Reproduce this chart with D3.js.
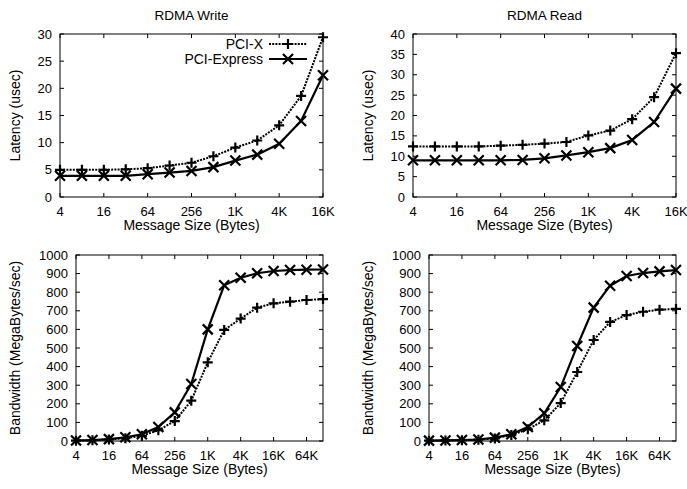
<!DOCTYPE html>
<html>
<head>
<meta charset="utf-8">
<script src="https://cdn.jsdelivr.net/npm/d3@7"></script>
<style>
  body { margin: 0; background: #fff; }
  text { font-family: "Liberation Sans", Arial, sans-serif; fill: #000; }
</style>
</head>
<body>
<div id="chart"></div>
<script>
// message sizes (bytes)
var sizesLat = [4, 8, 16, 32, 64, 128, 256, 512, 1024, 2048, 4096, 8192, 16384];
var sizesBw = [4, 8, 16, 32, 64, 128, 256, 512, 1024, 2048, 4096, 8192, 16384, 32768, 65536, 131072];

// RDMA Write latency (usec)
var writeLatPcix = [5.0, 5.0, 5.0, 5.1, 5.3, 5.8, 6.3, 7.5, 9.1, 10.4, 13.2, 18.6, 29.4];
var writeLatPcie = [3.9, 3.9, 3.9, 3.9, 4.2, 4.5, 4.8, 5.5, 6.7, 7.8, 9.8, 14.0, 22.4];
// RDMA Read latency (usec)
var readLatPcix = [12.4, 12.4, 12.4, 12.4, 12.6, 12.8, 13.1, 13.5, 15.1, 16.3, 19.1, 24.5, 35.3];
var readLatPcie = [9.0, 9.0, 9.0, 9.0, 9.0, 9.1, 9.5, 10.2, 11.0, 12.0, 14.0, 18.4, 26.6];
// RDMA Write bandwidth (MB/s)
var writeBwPcix = [2, 4, 8, 15, 28, 58, 107, 217, 423, 597, 658, 717, 740, 749, 758, 763];
var writeBwPcie = [3, 5, 10, 20, 36, 75, 154, 306, 600, 837, 878, 902, 914, 919, 921, 922];
// RDMA Read bandwidth (MB/s)
var readBwPcix = [2, 3, 4, 7, 14, 32, 63, 111, 204, 371, 543, 640, 677, 695, 706, 710];
var readBwPcie = [2, 3, 5, 8, 18, 36, 75, 149, 290, 511, 717, 835, 887, 903, 912, 919];

var tickLat = [4, 16, 64, 256, 1024, 4096, 16384];
var tickBw = [4, 16, 64, 256, 1024, 4096, 16384, 65536];
var legendNames = ["PCI-X", "PCI-Express"];

var svg = d3.select("#chart").append("svg")
    .attr("width", 687)
    .attr("height", 489);

function sizeLabel(d) {
    if (d >= 1024) return (d / 1024) + "K";
    return String(d);
}

function panel(opts) {
    var x = d3.scaleLog().base(2).domain(opts.xDomain).range([opts.left, opts.right]);
    var y = d3.scaleLinear().domain(opts.yDomain).range([opts.bottom, opts.top]);
    var g = svg.append("g");

    // frame
    g.append("rect")
        .attr("x", opts.left).attr("y", opts.top)
        .attr("width", opts.right - opts.left).attr("height", opts.bottom - opts.top)
        .attr("fill", "none").attr("stroke", "#000").attr("stroke-width", 1);

    // x ticks (inward, mirrored)
    opts.xTicks.forEach(function (t) {
        var px = x(t);
        g.append("line").attr("x1", px).attr("x2", px).attr("y1", opts.bottom).attr("y2", opts.bottom - 4)
            .attr("stroke", "#000");
        g.append("line").attr("x1", px).attr("x2", px).attr("y1", opts.top).attr("y2", opts.top + 4)
            .attr("stroke", "#000");
        g.append("text").attr("x", px).attr("y", opts.bottom + 18.5)
            .attr("text-anchor", "middle").attr("font-size", 13)
            .text(sizeLabel(t));
    });

    // y ticks
    opts.yTicks.forEach(function (t) {
        var py = y(t);
        g.append("line").attr("x1", opts.left).attr("x2", opts.left + 4).attr("y1", py).attr("y2", py)
            .attr("stroke", "#000");
        g.append("line").attr("x1", opts.right).attr("x2", opts.right - 4).attr("y1", py).attr("y2", py)
            .attr("stroke", "#000");
        g.append("text").attr("x", opts.left - 8).attr("y", py + 4.5)
            .attr("text-anchor", "end").attr("font-size", 13)
            .text(t);
    });

    if (opts.title) {
        g.append("text").attr("x", (opts.left + opts.right) / 2).attr("y", opts.top - 14)
            .attr("text-anchor", "middle").attr("font-size", 13.5).text(opts.title);
    }
    g.append("text").attr("x", (opts.left + opts.right) / 2).attr("y", opts.bottom + 33)
        .attr("text-anchor", "middle").attr("font-size", 14).text("Message Size (Bytes)");
    g.append("text")
        .attr("transform", "translate(" + opts.yLabelX + "," + ((opts.top + opts.bottom) / 2) + ") rotate(-90)")
        .attr("text-anchor", "middle").attr("font-size", 14).text(opts.yLabel);

    var line = d3.line()
        .x(function (d) { return x(d[0]); })
        .y(function (d) { return y(d[1]); });

    var pcix = d3.zip(opts.sizes, opts.pcix);
    var pcie = d3.zip(opts.sizes, opts.pcie);

    g.append("path").datum(pcix).attr("d", line)
        .attr("fill", "none").attr("stroke", "#000").attr("stroke-width", 2)
        .attr("stroke-dasharray", "2,1.2");
    g.append("path").datum(pcie).attr("d", line)
        .attr("fill", "none").attr("stroke", "#000").attr("stroke-width", 2.2);

    pcix.forEach(function (d) { plusMark(g, x(d[0]), y(d[1])); });
    pcie.forEach(function (d) { crossMark(g, x(d[0]), y(d[1])); });

    if (opts.legend) {
        var lx = opts.right - 16 - 38, ly1 = opts.top + 10, ly2 = opts.top + 25;
        g.append("text").attr("x", lx - 6).attr("y", ly1 + 5).attr("text-anchor", "end")
            .attr("font-size", 14).text(legendNames[0]);
        g.append("line").attr("x1", lx).attr("x2", lx + 38).attr("y1", ly1).attr("y2", ly1)
            .attr("stroke", "#000").attr("stroke-width", 2).attr("stroke-dasharray", "2,1.2");
        plusMark(g, lx + 19, ly1);
        g.append("text").attr("x", lx - 6).attr("y", ly2 + 5).attr("text-anchor", "end")
            .attr("font-size", 14).text(legendNames[1]);
        g.append("line").attr("x1", lx).attr("x2", lx + 38).attr("y1", ly2).attr("y2", ly2)
            .attr("stroke", "#000").attr("stroke-width", 2.2);
        crossMark(g, lx + 19, ly2);
    }
}

function plusMark(g, cx, cy) {
    var r = 5;
    g.append("path")
        .attr("d", "M" + (cx - r) + "," + cy + "H" + (cx + r) + "M" + cx + "," + (cy - r) + "V" + (cy + r))
        .attr("stroke", "#000").attr("stroke-width", 2.2).attr("fill", "none");
}

function crossMark(g, cx, cy) {
    var r = 5;
    g.append("path")
        .attr("d", "M" + (cx - r) + "," + (cy - r) + "L" + (cx + r) + "," + (cy + r) +
            "M" + (cx - r) + "," + (cy + r) + "L" + (cx + r) + "," + (cy - r))
        .attr("stroke", "#000").attr("stroke-width", 2.2).attr("fill", "none");
}

panel({
    left: 60, right: 323, top: 34, bottom: 197,
    xDomain: [4, 16384], yDomain: [0, 30],
    xTicks: tickLat, yTicks: d3.range(0, 31, 5),
    sizes: sizesLat, pcix: writeLatPcix, pcie: writeLatPcie,
    title: "RDMA Write", yLabelX: 20, yLabel: "Latency (usec)", legend: true
});
panel({
    left: 413, right: 676, top: 34, bottom: 197,
    xDomain: [4, 16384], yDomain: [0, 40],
    xTicks: tickLat, yTicks: d3.range(0, 41, 5),
    sizes: sizesLat, pcix: readLatPcix, pcie: readLatPcie,
    title: "RDMA Read", yLabelX: 373, yLabel: "Latency (usec)"
});
panel({
    left: 76, right: 323, top: 255, bottom: 441,
    xDomain: [4, 131072], yDomain: [0, 1000],
    xTicks: tickBw, yTicks: d3.range(0, 1001, 100),
    sizes: sizesBw, pcix: writeBwPcix, pcie: writeBwPcie,
    yLabelX: 20, yLabel: "Bandwidth (MegaBytes/sec)"
});
panel({
    left: 429, right: 676, top: 255, bottom: 441,
    xDomain: [4, 131072], yDomain: [0, 1000],
    xTicks: tickBw, yTicks: d3.range(0, 1001, 100),
    sizes: sizesBw, pcix: readBwPcix, pcie: readBwPcie,
    yLabelX: 373, yLabel: "Bandwidth (MegaBytes/sec)"
});
</script>
</body>
</html>
